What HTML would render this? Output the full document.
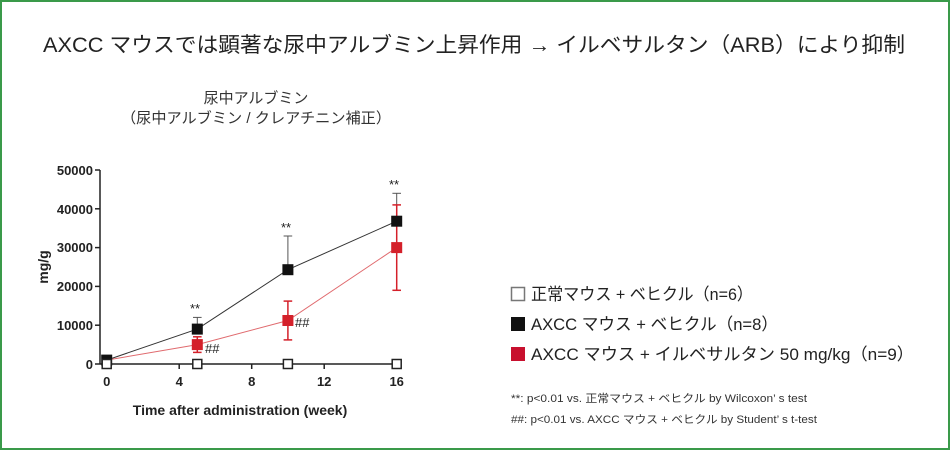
<!DOCTYPE html>
<html><head><meta charset="utf-8"><style>
html,body{margin:0;padding:0;background:#fff;}
body{width:950px;height:450px;overflow:hidden;}
svg{display:block;}
.j{font-family:"Liberation Sans","Noto Sans CJK JP",sans-serif;}
</style></head><body>
<svg width="950" height="450" xmlns="http://www.w3.org/2000/svg" class="j">
<rect x="1" y="1" width="948" height="448" fill="#fff" stroke="#3a9a4a" stroke-width="2"/>
<text x="474" y="52" font-size="21" text-anchor="middle" fill="#222" textLength="862" lengthAdjust="spacingAndGlyphs">AXCC マウスでは顕著な尿中アルブミン上昇作用 → イルベサルタン（ARB）により抑制</text>
<text x="256" y="103" font-size="15" text-anchor="middle" fill="#333">尿中アルブミン</text>
<text x="256" y="123" font-size="15" text-anchor="middle" fill="#333" textLength="270" lengthAdjust="spacingAndGlyphs">（尿中アルブミン / クレアチニン補正）</text>
<g stroke="#222" stroke-width="1.5" fill="none">
<line x1="100" y1="170" x2="100" y2="364"/>
<line x1="100" y1="364" x2="400" y2="364"/>
<line x1="95" y1="170" x2="100" y2="170"/><line x1="95" y1="208.8" x2="100" y2="208.8"/><line x1="95" y1="247.6" x2="100" y2="247.6"/><line x1="95" y1="286.4" x2="100" y2="286.4"/><line x1="95" y1="325.2" x2="100" y2="325.2"/><line x1="95" y1="364" x2="100" y2="364"/>
<line x1="106.7" y1="364" x2="106.7" y2="369"/><line x1="179.2" y1="364" x2="179.2" y2="369"/><line x1="251.7" y1="364" x2="251.7" y2="369"/><line x1="324.2" y1="364" x2="324.2" y2="369"/><line x1="396.7" y1="364" x2="396.7" y2="369"/>
</g>
<g font-size="13" font-weight="bold" fill="#222" text-anchor="end">
<text x="93" y="175">50000</text><text x="93" y="214">40000</text><text x="93" y="252">30000</text><text x="93" y="291">20000</text><text x="93" y="330">10000</text><text x="93" y="369">0</text>
</g>
<g font-size="13" font-weight="bold" fill="#222" text-anchor="middle">
<text x="106.7" y="386">0</text><text x="179.2" y="386">4</text><text x="251.7" y="386">8</text><text x="324.2" y="386">12</text><text x="396.7" y="386">16</text>
<text x="240" y="415" font-size="14">Time after administration (week)</text>
<text transform="translate(48,267) rotate(-90)" font-size="14">mg/g</text>
</g>
<g stroke="#555" stroke-width="1" fill="none">
<line x1="197.3" y1="329" x2="197.3" y2="317.4"/><line x1="193" y1="317.4" x2="201.6" y2="317.4"/>
<line x1="287.9" y1="270" x2="287.9" y2="236"/><line x1="283.6" y1="236" x2="292.2" y2="236"/>
<line x1="396.7" y1="221" x2="396.7" y2="193.3"/><line x1="392.4" y1="193.3" x2="401" y2="193.3"/>
<polyline stroke="#333" points="106.7,360.1 197.3,329.1 287.9,269.7 396.7,221.2"/>
</g>
<g stroke="#d4202a" stroke-width="1.5" fill="none">
<line x1="197.3" y1="352.4" x2="197.3" y2="336.8"/><line x1="193" y1="352.4" x2="201.6" y2="352.4"/><line x1="193" y1="336.8" x2="201.6" y2="336.8"/>
<line x1="287.9" y1="339.9" x2="287.9" y2="301.1"/><line x1="283.6" y1="339.9" x2="292.2" y2="339.9"/><line x1="283.6" y1="301.1" x2="292.2" y2="301.1"/>
<line x1="396.7" y1="290.3" x2="396.7" y2="204.9"/><line x1="392.4" y1="290.3" x2="401" y2="290.3"/><line x1="392.4" y1="204.9" x2="401" y2="204.9"/>
<polyline stroke="#e06a6e" stroke-width="1" points="106.7,360.1 197.3,344.6 287.9,320.5 396.7,247.6"/>
</g>
<g fill="#111">
<rect x="101.2" y="354.6" width="11" height="11"/><rect x="191.8" y="323.6" width="11" height="11"/><rect x="282.4" y="264.2" width="11" height="11"/><rect x="391.2" y="215.7" width="11" height="11"/>
</g>
<g fill="#d4202a">
<rect x="191.8" y="339.1" width="11" height="11"/><rect x="282.4" y="315" width="11" height="11"/><rect x="391.2" y="242.1" width="11" height="11"/>
</g>
<g fill="#fff" stroke="#222" stroke-width="1.5">
<rect x="102.2" y="359.5" width="9" height="9"/><rect x="192.8" y="359.5" width="9" height="9"/><rect x="283.4" y="359.5" width="9" height="9"/><rect x="392.2" y="359.5" width="9" height="9"/>
</g>
<g font-size="13" fill="#222">
<text x="190" y="313">**</text><text x="281" y="232">**</text><text x="389" y="189">**</text>
<text x="205" y="353">##</text><text x="295" y="327">##</text>
</g>
<rect x="511.5" y="287.5" width="13" height="13" fill="#fff" stroke="#777" stroke-width="1.5"/>
<text x="531" y="300" font-size="17" fill="#222" textLength="222" lengthAdjust="spacingAndGlyphs">正常マウス + ベヒクル（n=6）</text>
<rect x="511" y="317" width="14" height="14" fill="#111"/>
<text x="531" y="330" font-size="17" fill="#222" textLength="247" lengthAdjust="spacingAndGlyphs">AXCC マウス + ベヒクル（n=8）</text>
<rect x="511" y="347" width="14" height="14" fill="#c8102e"/>
<text x="531" y="360" font-size="17" fill="#222" textLength="383" lengthAdjust="spacingAndGlyphs">AXCC マウス + イルベサルタン 50 mg/kg（n=9）</text>
<text x="511" y="402" font-size="11" fill="#333" textLength="296" lengthAdjust="spacingAndGlyphs">**: p&lt;0.01 vs. 正常マウス + ベヒクル by Wilcoxon’ s test</text>
<text x="511" y="423" font-size="11" fill="#333" textLength="306" lengthAdjust="spacingAndGlyphs">##: p&lt;0.01 vs. AXCC マウス + ベヒクル by Student’ s t-test</text>
</svg>
</body></html>
